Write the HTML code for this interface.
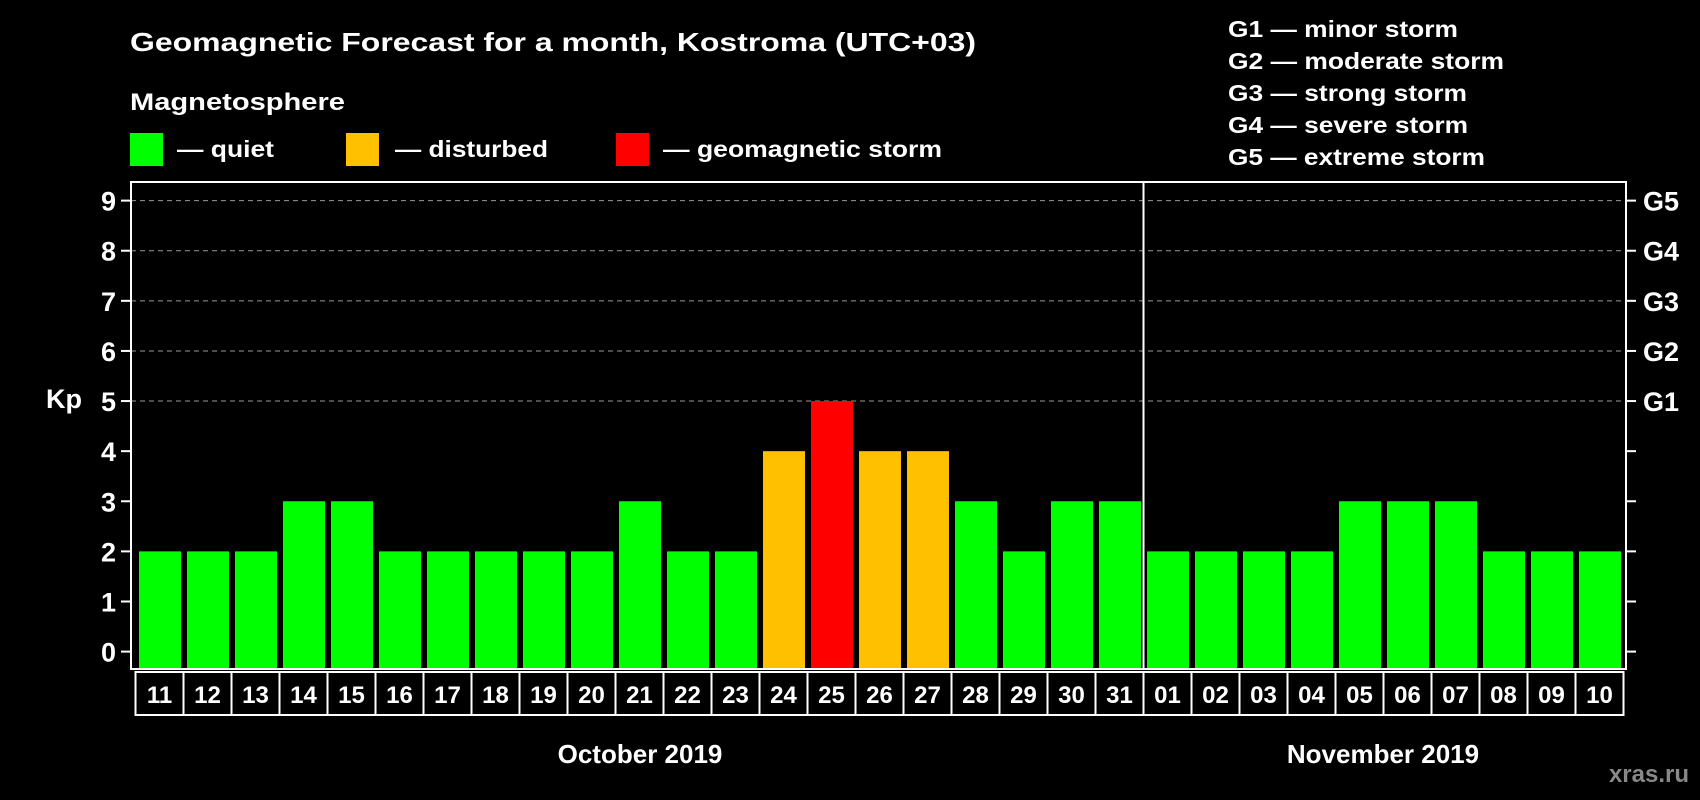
<!DOCTYPE html>
<html><head><meta charset="utf-8"><style>
html,body{margin:0;padding:0;background:#000;}
svg{display:block;font-family:"Liberation Sans",Arial,sans-serif;font-weight:bold;}
</style></head><body>
<svg id="chart" width="1700" height="800" viewBox="0 0 1700 800">
<rect x="0" y="0" width="1700" height="800" fill="#000"/>
<text x="130" y="51" fill="#fff" font-size="26" textLength="846" lengthAdjust="spacingAndGlyphs">Geomagnetic Forecast for a month, Kostroma (UTC+03)</text>
<text x="130" y="110" fill="#fff" font-size="24" textLength="215" lengthAdjust="spacingAndGlyphs">Magnetosphere</text>
<rect x="130" y="133" width="33" height="33" fill="#00ff00"/>
<text x="177" y="157" fill="#fff" font-size="23" textLength="97" lengthAdjust="spacingAndGlyphs">— quiet</text>
<rect x="346" y="133" width="33" height="33" fill="#ffc000"/>
<text x="395" y="157" fill="#fff" font-size="23" textLength="153" lengthAdjust="spacingAndGlyphs">— disturbed</text>
<rect x="616" y="133" width="33" height="33" fill="#ff0000"/>
<text x="663" y="157" fill="#fff" font-size="23" textLength="279" lengthAdjust="spacingAndGlyphs">— geomagnetic storm</text>
<g fill="#fff" font-size="23">
<text x="1228" y="37" textLength="230" lengthAdjust="spacingAndGlyphs">G1 — minor storm</text>
<text x="1228" y="69" textLength="276" lengthAdjust="spacingAndGlyphs">G2 — moderate storm</text>
<text x="1228" y="101" textLength="239" lengthAdjust="spacingAndGlyphs">G3 — strong storm</text>
<text x="1228" y="133" textLength="240" lengthAdjust="spacingAndGlyphs">G4 — severe storm</text>
<text x="1228" y="165" textLength="257" lengthAdjust="spacingAndGlyphs">G5 — extreme storm</text>
</g>
<text x="64" y="408" fill="#fff" font-size="27" text-anchor="middle">Kp</text>
<g id="plot"></g>
<text x="640" y="763" fill="#fff" font-size="26" text-anchor="middle">October 2019</text>
<text x="1383" y="763" fill="#fff" font-size="26" text-anchor="middle">November 2019</text>
<text x="1689" y="782" fill="#888" font-size="24" text-anchor="end">xras.ru</text>
</svg>
<script>
const days = ["11","12","13","14","15","16","17","18","19","20","21","22","23","24","25","26","27","28","29","30","31","01","02","03","04","05","06","07","08","09","10"];
const kp = [2,2,2,3,3,2,2,2,2,2,3,2,2,4,5,4,4,3,2,3,3,2,2,2,2,3,3,3,2,2,2];
const yTicks = [0,1,2,3,4,5,6,7,8,9];
const gLabels = ["G1","G2","G3","G4","G5"];
const gLevels = [5,6,7,8,9];
const monthBreakIndex = 21;

const NS = "http://www.w3.org/2000/svg";
const plot = document.getElementById("plot");
const frameL = 131, frameR = 1626, frameT = 182, frameB = 669;
const colL = 135.5, colW = 48, boxT = 672, boxB = 715;
const y0 = 651.6, yUnit = 50.11;
function yScale(v){ return y0 - v * yUnit; }
function xCol(i){ return colL + i * colW; }
function mk(tag, attrs){ const e = document.createElementNS(NS, tag); for (const k in attrs) e.setAttribute(k, attrs[k]); plot.appendChild(e); return e; }
function color(v){ return v >= 5 ? "#ff0000" : (v >= 4 ? "#ffc000" : "#00ff00"); }

// grid lines
gLevels.forEach(function(v){
  const g = mk("line", {x1: frameL, x2: frameR, y1: yScale(v), y2: yScale(v), stroke: "#999", "stroke-width": 1, "stroke-dasharray": "5,4"});
  
  
});
// bars
kp.forEach(function(v, i){
  const r = mk("rect", {x: xCol(i) + 3.5, y: yScale(v), width: 42, height: frameB - yScale(v), fill: color(v)});
  
  
});
// frame
const fr = mk("rect", {x: frameL, y: frameT, width: frameR - frameL, height: frameB - frameT, fill: "none", stroke: "#fff", "stroke-width": 2});


const sep = mk("line", {x1: xCol(monthBreakIndex), x2: xCol(monthBreakIndex), y1: frameT, y2: frameB, stroke: "#fff", "stroke-width": 2});


// y ticks
yTicks.forEach(function(v){
  const t1 = mk("line", {x1: frameL - 10, x2: frameL, y1: yScale(v), y2: yScale(v), stroke: "#fff", "stroke-width": 2});
  
  
  const t2 = mk("line", {x1: frameR, x2: frameR + 10, y1: yScale(v), y2: yScale(v), stroke: "#fff", "stroke-width": 2});
  
  
  const lb = mk("text", {x: 116, y: yScale(v) + 10, fill: "#fff", "font-size": 27, "text-anchor": "end"});
  lb.textContent = String(v);
  
  
});
gLabels.forEach(function(g, i){
  const lb = mk("text", {x: 1643, y: yScale(gLevels[i]) + 10, fill: "#fff", "font-size": 27});
  lb.textContent = g;
  
  
});
// day boxes
days.forEach(function(d, i){
  const b = mk("rect", {x: xCol(i), y: boxT, width: colW, height: boxB - boxT, fill: "#000", stroke: "#fff", "stroke-width": 2});
  
  
  const t = mk("text", {x: xCol(i) + colW / 2, y: boxT + 31, fill: "#fff", "font-size": 24, "text-anchor": "middle"});
  t.textContent = d;
  
  
});
</script>
</body></html>
